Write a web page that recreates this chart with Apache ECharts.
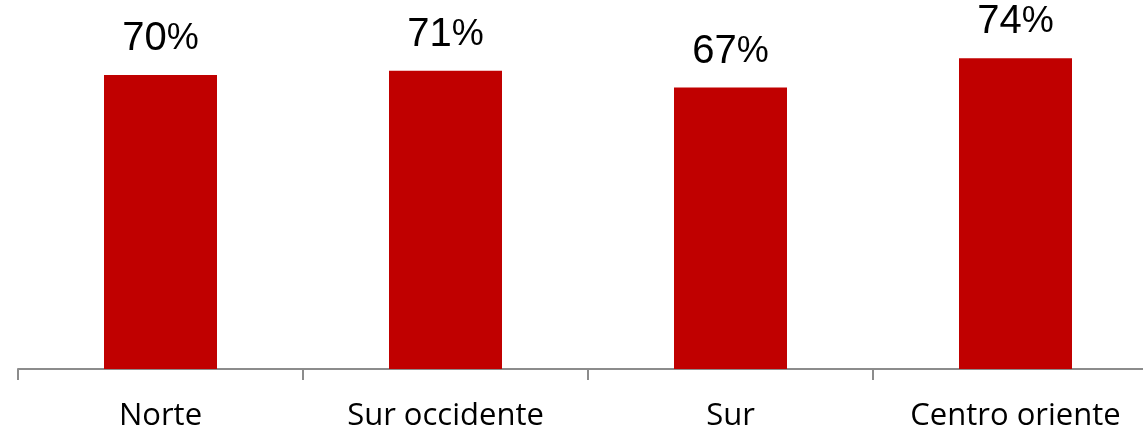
<!DOCTYPE html>
<html>
<head>
<meta charset="utf-8">
<script src="https://cdn.jsdelivr.net/npm/echarts@6/dist/echarts.min.js"></script>
<style>
  html, body { margin: 0; padding: 0; background: #fff; }
  #main { width: 1143px; height: 433px; }
</style>
</head>
<body>
<div id="main"></div>
<script>
var categories = ["Norte", "Sur occidente", "Sur", "Centro oriente"];
var values = [70, 71, 67, 74];

var myChart = echarts.init(document.getElementById("main"));
var option = {
    animation: false,
    grid: {
        left: 18,
        width: 1140,
        top: 33,
        bottom: 64,
        outerBoundsMode: "none"
    },
    xAxis: {
        type: "category",
        data: categories,
        axisLine: { lineStyle: { color: "#8c8c8c", width: 2 } },
        axisTick: { show: true, length: 11, lineStyle: { color: "#8c8c8c", width: 2 } },
        axisLabel: {
            color: "#000",
            fontFamily: "Open Sans",
            fontSize: 31,
            margin: 32
        }
    },
    yAxis: {
        type: "value",
        min: 0,
        max: 80,
        show: false,
        splitLine: { show: false }
    },
    series: [{
        type: "bar",
        data: values,
        barWidth: 113,
        itemStyle: { color: "#C00000" },
        label: {
            show: true,
            position: "top",
            distance: 16,
            formatter: "{n|{c}}{p|%}",
            rich: {
                n: { color: "#000", fontFamily: "Liberation Sans", fontSize: 40 },
                p: { color: "#000", fontFamily: "Liberation Sans", fontSize: 36 }
            }
        }
    }]
};
myChart.setOption(option);
</script>
</body>
</html>
